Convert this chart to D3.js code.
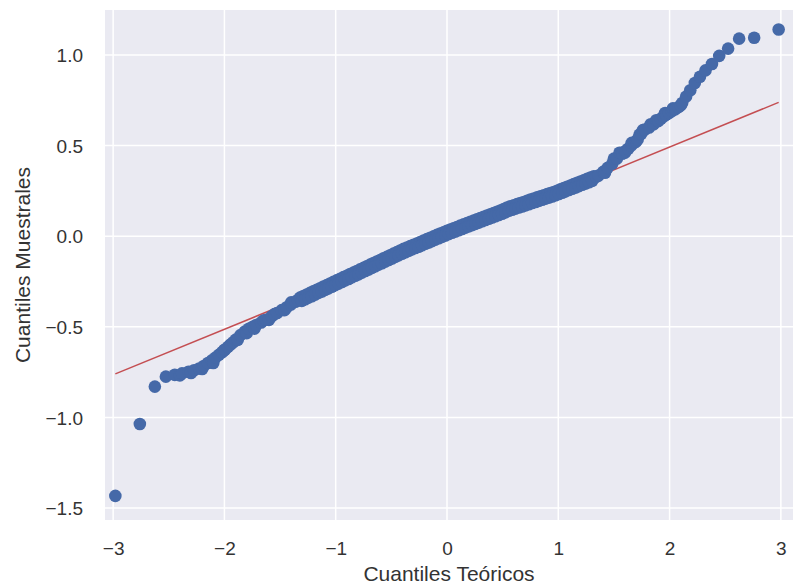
<!DOCTYPE html>
<html>
<head>
<meta charset="utf-8">
<script src="https://cdn.jsdelivr.net/npm/d3@7"></script>
<style>
  html, body { margin: 0; padding: 0; background: #ffffff; }
  svg { display: block; }
  text { font-family: "Liberation Sans", Arial, sans-serif; fill: #333333; }
</style>
</head>
<body>
<svg id="chart" width="793" height="588"></svg>
<script>
// Normal Q-Q plot: theoretical quantiles vs. sample quantiles
const theoretical = [
  // lower tail
  -2.980, -2.760, -2.625, -2.526, -2.446, -2.400, -2.381, -2.323, -2.300, -2.273,
  -2.227, -2.200, -2.186, -2.148, -2.113, -2.100, -2.080, -2.050, -2.021, -2.000,
  -1.994, -1.968, -1.945, -1.921, -1.898, -1.880, -1.856, -1.816, -1.800, -1.781,
  -1.745, -1.730, -1.714, -1.670, -1.650, -1.627, -1.600, -1.575, -1.550, -1.527,
  -1.485, -1.460, -1.440, -1.403, -1.400, -1.362, -1.340,
  // central body
  -1.320, -1.290, -1.260, -1.230, -1.200, -1.170, -1.140, -1.110, -1.080, -1.050,
  -1.020, -0.990, -0.960, -0.930, -0.900, -0.870, -0.840, -0.810,
  -0.780, -0.750, -0.720, -0.690, -0.660, -0.630, -0.600, -0.570, -0.540, -0.510,
  -0.480, -0.450, -0.420,
  -0.390, -0.360, -0.330, -0.300, -0.270, -0.240, -0.210, -0.180, -0.150, -0.120,
  -0.090, -0.060, -0.030, 0.000,
  0.030, 0.060, 0.090, 0.120, 0.150, 0.180, 0.210, 0.240, 0.270, 0.300,
  0.330, 0.360, 0.390, 0.420, 0.450, 0.480, 0.510, 0.540,
  0.570, 0.600, 0.630, 0.660, 0.690, 0.720, 0.750, 0.780, 0.810, 0.840,
  0.870, 0.900, 0.930, 0.960,
  0.990, 1.020, 1.050, 1.080, 1.110, 1.140, 1.170, 1.200, 1.230, 1.260,
  1.290, 1.320,
  -1.305, -1.275, -1.245, -1.215, -1.185, -1.155, -1.125, -1.095, -1.065, -1.035,
  -1.005, -0.975, -0.945, -0.915, -0.885, -0.855, -0.825,
  -0.795, -0.765, -0.735, -0.705, -0.675, -0.645, -0.615, -0.585, -0.555, -0.525,
  -0.495, -0.465, -0.435, -0.405,
  -0.375, -0.345, -0.315, -0.285, -0.255, -0.225, -0.195, -0.165, -0.135, -0.105,
  -0.075, -0.045, -0.015,
  0.015, 0.045, 0.075, 0.105, 0.135, 0.165, 0.195, 0.225, 0.255, 0.285,
  0.315, 0.345, 0.375, 0.405, 0.435, 0.465, 0.495, 0.525, 0.555,
  0.585, 0.615, 0.645, 0.675, 0.705, 0.735, 0.765, 0.795, 0.825, 0.855,
  0.885, 0.915, 0.945,
  0.975, 1.005, 1.035, 1.065, 1.095, 1.125, 1.155, 1.185, 1.215, 1.245,
  1.275, 1.305,
  // upper tail
  1.340, 1.362, 1.403, 1.420, 1.443, 1.485, 1.500, 1.527, 1.550, 1.575,
  1.600, 1.603, 1.628, 1.655, 1.660, 1.684, 1.700, 1.714, 1.730, 1.745,
  1.760, 1.779, 1.816, 1.830, 1.856, 1.880, 1.898, 1.921, 1.945, 1.960,
  1.968, 1.994, 2.021, 2.030, 2.050, 2.080, 2.100, 2.113, 2.148, 2.186,
  2.227, 2.273, 2.323, 2.381, 2.446, 2.526, 2.625, 2.760, 2.980
];

const sample = [
  // lower tail
  -1.433, -1.036, -0.830, -0.775, -0.765, -0.768, -0.757, -0.748, -0.755, -0.740,
  -0.730, -0.733, -0.716, -0.700, -0.685, -0.700, -0.670, -0.655, -0.640, -0.628,
  -0.625, -0.611, -0.598, -0.585, -0.571, -0.572, -0.546, -0.526, -0.535, -0.511,
  -0.500, -0.510, -0.490, -0.476, -0.466, -0.461, -0.462, -0.442, -0.430, -0.424,
  -0.408, -0.408, -0.392, -0.377, -0.365, -0.362, -0.352,
  // central body
  -0.339, -0.330, -0.322, -0.313, -0.304, -0.296, -0.287, -0.278, -0.270, -0.261,
  -0.252, -0.244, -0.235, -0.226, -0.218, -0.209, -0.201, -0.192,
  -0.183, -0.175, -0.166, -0.157, -0.148, -0.140, -0.131, -0.122, -0.114, -0.105,
  -0.096, -0.088, -0.079,
  -0.070, -0.063, -0.055, -0.047, -0.040, -0.032, -0.024, -0.016, -0.009, -0.001,
  0.007, 0.015, 0.022, 0.030,
  0.037, 0.044, 0.051, 0.058, 0.065, 0.072, 0.079, 0.086, 0.093, 0.100,
  0.107, 0.114, 0.121, 0.128, 0.135, 0.142, 0.150, 0.158,
  0.165, 0.171, 0.177, 0.183, 0.189, 0.195, 0.202, 0.208, 0.214, 0.220,
  0.226, 0.232, 0.238, 0.244,
  0.251, 0.259, 0.266, 0.273, 0.280, 0.288, 0.295, 0.302, 0.309, 0.317,
  0.324, 0.331,
  -0.357, -0.348, -0.339, -0.331, -0.322, -0.313, -0.305, -0.296, -0.288, -0.279,
  -0.270, -0.262, -0.253, -0.244, -0.236, -0.227, -0.218,
  -0.210, -0.201, -0.192, -0.184, -0.175, -0.166, -0.157, -0.149, -0.140, -0.131,
  -0.123, -0.114, -0.105, -0.097,
  -0.089, -0.081, -0.073, -0.065, -0.058, -0.050, -0.042, -0.035, -0.027, -0.019,
  -0.011, -0.004, 0.004,
  0.012, 0.019, 0.026, 0.033, 0.040, 0.047, 0.054, 0.061, 0.068, 0.075,
  0.082, 0.089, 0.096, 0.103, 0.110, 0.117, 0.124, 0.132, 0.140,
  0.146, 0.152, 0.158, 0.164, 0.170, 0.176, 0.183, 0.189, 0.195, 0.201,
  0.207, 0.213, 0.219,
  0.226, 0.233, 0.240, 0.247, 0.255, 0.262, 0.269, 0.276, 0.284, 0.291,
  0.298, 0.305,
  // upper tail
  0.327, 0.335, 0.355, 0.350, 0.377, 0.400, 0.428, 0.428, 0.460, 0.455,
  0.462, 0.470, 0.482, 0.500, 0.515, 0.516, 0.522, 0.535, 0.560, 0.565,
  0.585, 0.588, 0.600, 0.618, 0.618, 0.640, 0.635, 0.648, 0.660, 0.680,
  0.670, 0.680, 0.690, 0.705, 0.700, 0.712, 0.722, 0.735, 0.770, 0.805,
  0.845, 0.880, 0.915, 0.950, 0.995, 1.035, 1.090, 1.095, 1.140
];

// Reference line endpoints (standardized fit)
const refLineX = [-2.98, 2.98];
const refLineY = [-0.760, 0.738];

const xTicks = [-3, -2, -1, 0, 1, 2, 3];
const yTicks = [-1.5, -1.0, -0.5, 0.0, 0.5, 1.0];
const xTitle = "Cuantiles Teóricos";
const yTitle = "Cuantiles Muestrales";

const svg = d3.select("#chart");
const panel = { left: 105, top: 10, right: 793, bottom: 520 };

const x = d3.scaleLinear().domain([-3.073, 3.109]).range([panel.left, panel.right]);
const y = d3.scaleLinear().domain([-1.566, 1.248]).range([panel.bottom, panel.top]);

// Background
svg.append("rect")
  .attr("x", panel.left).attr("y", panel.top)
  .attr("width", panel.right - panel.left)
  .attr("height", panel.bottom - panel.top)
  .attr("fill", "#eaeaf2");

// Grid
const grid = svg.append("g");
grid.selectAll("line.vx").data(xTicks).join("line")
  .attr("x1", d => x(d)).attr("x2", d => x(d))
  .attr("y1", panel.top).attr("y2", panel.bottom)
  .attr("stroke", "#ffffff").attr("stroke-width", 1.5);
grid.selectAll("line.hy").data(yTicks).join("line")
  .attr("y1", d => y(d)).attr("y2", d => y(d))
  .attr("x1", panel.left).attr("x2", panel.right)
  .attr("stroke", "#ffffff").attr("stroke-width", 1.5);

// Axes (labels only, seaborn darkgrid style)
const xAxis = d3.axisBottom(x).tickValues(xTicks).tickSize(0).tickPadding(0)
  .tickFormat(d => d3.format("d")(d).replace("-", "\u2212"));
const gx = svg.append("g").attr("transform", `translate(0,${panel.bottom})`).call(xAxis);
gx.select(".domain").remove();
gx.selectAll("text").attr("font-size", 19).attr("dy", null).attr("y", 35)
  .style("fill", "#333333");

const yAxis = d3.axisLeft(y).tickValues(yTicks).tickSize(0).tickPadding(0)
  .tickFormat(d => d3.format(".1f")(d).replace("-", "\u2212"));
const gy = svg.append("g").attr("transform", `translate(${panel.left},0)`).call(yAxis);
gy.select(".domain").remove();
gy.selectAll("text").attr("font-size", 19).attr("x", -22).attr("dy", "0.35em")
  .style("fill", "#333333");

// Reference line
svg.append("line")
  .attr("x1", x(refLineX[0])).attr("y1", y(refLineY[0]))
  .attr("x2", x(refLineX[1])).attr("y2", y(refLineY[1]))
  .attr("stroke", "#c44e52").attr("stroke-width", 1.5);

// Points
const pts = theoretical.map((t, i) => ({ t, s: sample[i] }));
svg.append("g").selectAll("circle").data(pts).join("circle")
  .attr("cx", d => x(d.t)).attr("cy", d => y(d.s)).attr("r", 6.3)
  .attr("fill", "#4569a8");

// Axis titles
svg.append("text").attr("x", (panel.left + panel.right) / 2).attr("y", 581)
  .attr("text-anchor", "middle").attr("font-size", 21).text(xTitle);
svg.append("text")
  .attr("transform", `translate(30,${(panel.top + panel.bottom) / 2}) rotate(-90)`)
  .attr("text-anchor", "middle").attr("font-size", 21).text(yTitle);
</script>
</body>
</html>
